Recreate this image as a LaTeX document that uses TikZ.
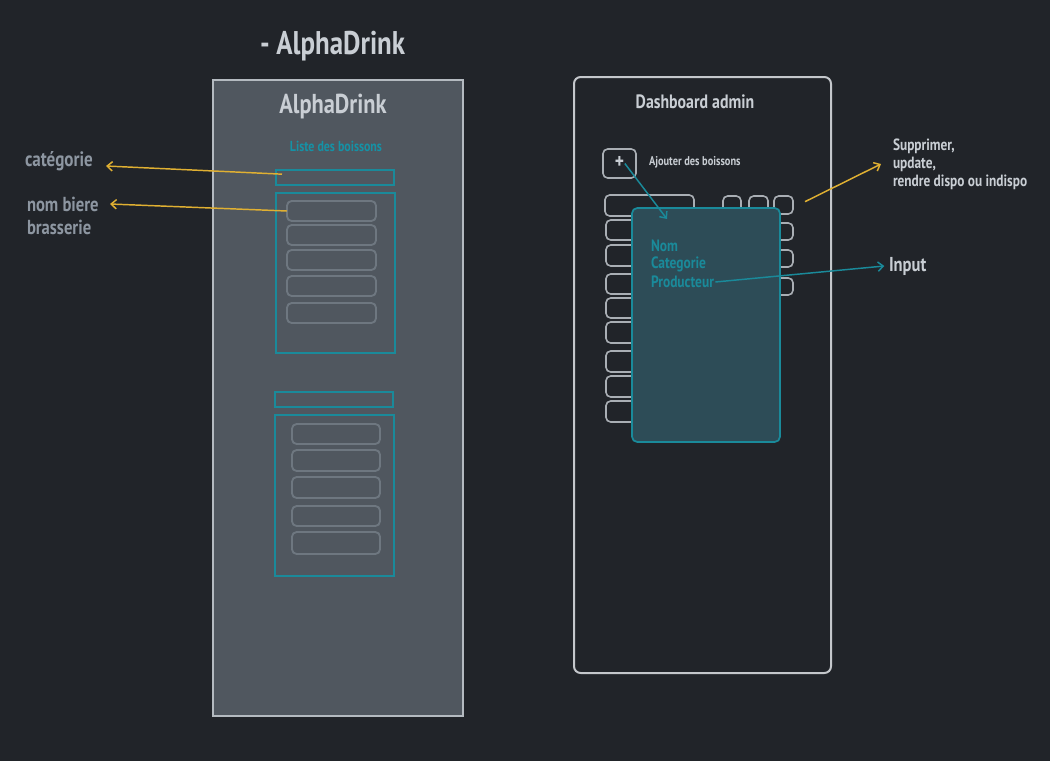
\documentclass[tikz,border=0pt]{standalone}
\usepackage{fontspec}
\setmainfont{PT Sans}[FakeStretch=0.82]
\usetikzlibrary{arrows.meta}
\definecolor{bgc}{HTML}{212429}
\definecolor{panelc}{HTML}{50575F}
\definecolor{panelborder}{HTML}{B4BAC0}
\definecolor{tealc}{HTML}{1A8A9A}
\definecolor{tealbright}{HTML}{1592A6}
\definecolor{rowgray}{HTML}{6E7780}
\definecolor{rowlight}{HTML}{A9AEB4}
\definecolor{amber}{HTML}{E0B032}
\definecolor{modalc}{HTML}{2D4C57}
\definecolor{lightc}{HTML}{C9CED4}
\definecolor{slate}{HTML}{8D96A1}
\definecolor{dashborder}{HTML}{C4C7CB}
\tikzset{
  every node/.style={inner sep=0pt, outer sep=0pt},
  tealbox/.style={draw=tealc, line width=1.3pt},
  rowL/.style={draw=rowgray, line width=1.4pt, rounded corners=3.5pt},
  rowD/.style={draw=rowlight, line width=1.2pt, rounded corners=3.5pt},
  arrowY/.style={draw=amber, line width=1.1pt, -{Straight Barb[length=4pt,width=7pt]}},
  arrowT/.style={draw=tealc, line width=1.1pt, -{Straight Barb[length=4pt,width=7pt]}},
  txt/.style={anchor=west, align=left}
}
\newcommand\pbx[6]{\node[#6, anchor=north west, minimum width={(#4-#2)*0.75pt}, minimum height={(#5-#3)*0.75pt}] (#1) at (#2,#3) {};}
\begin{document}
\begin{tikzpicture}[x=0.75pt,y=-0.75pt]
\fill[bgc] (0,0) rectangle (1050,761);
\useasboundingbox (0,0) rectangle (1050,761);

% ---------- left mock-up ----------
\node[txt, font=\bfseries\fontsize{24.6}{28}\selectfont, text=lightc] (title) at (260,46) {- AlphaDrink};
\pbx{panel}{213}{80}{463}{716}{fill=panelc, draw=panelborder, line width=1.5pt}
\node[font=\bfseries\fontsize{20.5}{24}\selectfont, text=lightc] (brand) at (333,107) {AlphaDrink};
\node[font=\bfseries\fontsize{10.9}{13}\selectfont, text=tealbright] (liste) at (336,146) {Liste des boissons};

\pbx{catA}{276}{170}{394}{185}{tealbox}
\pbx{listA}{276}{193}{395}{353}{tealbox}
\foreach \i/\a/\b in {1/201/221,2/225/245,3/250/270,4/276/296,5/303/323}{
  \pbx{rA\i}{287}{\a}{376}{\b}{rowL}
}
\pbx{catB}{275}{392}{393}{407}{tealbox}
\pbx{listB}{275}{415}{394}{576}{tealbox}
\foreach \i/\a/\b in {1/424/444,2/450/471,3/477/498,4/506/526,5/532/554}{
  \pbx{rB\i}{292}{\a}{380}{\b}{rowL}
}

\node[txt, font=\bfseries\fontsize{15.6}{17}\selectfont, text=slate] (cat) at (25,161) {catégorie};
\node[txt, font=\bfseries\fontsize{15.2}{17}\selectfont, text=slate] (nom) at (27,216) {nom biere\\brasserie};
\coordinate (catTip) at (106,166);
\coordinate (nomTip) at (110,204);
\draw[arrowY] ([xshift=4.5pt,yshift=2.5pt]catA.west) -- (catTip);
\draw[arrowY] (rA1.west) -- (nomTip);

% ---------- dashboard ----------
\pbx{dash}{574}{77}{831}{673}{draw=dashborder, line width=1.5pt, rounded corners=5pt}
\node[font=\bfseries\fontsize{14.5}{17}\selectfont, text=lightc] (dashtitle) at (695,102) {Dashboard admin};
\pbx{plus}{603}{149}{636}{178}{rowD}
\node[font=\bfseries\fontsize{16}{17}\selectfont, text=lightc] (plussign) at (619.5,162) {+};
\node[txt, font=\bfseries\fontsize{9.5}{11}\selectfont, text=lightc] (ajout) at (649,162) {Ajouter des boissons};

\pbx{dr0}{605}{195}{694}{216}{rowD}
\foreach \i/\a/\b in {1/220/240,2/245/266,3/274/294,4/298/318,5/322/343,6/351/372,7/376/397,8/401/422}{
  \pbx{dr\i}{606}{\a}{670}{\b}{rowD}
}
\pbx{sq1}{723}{196}{741}{214}{rowD}
\pbx{sq2}{749}{196}{768}{214}{rowD}
\pbx{sq3}{774}{196}{793}{214}{rowD}
\pbx{sq4}{760}{223}{793}{240}{rowD}
\pbx{sq5}{760}{250}{793}{267}{rowD}
\pbx{sq6}{760}{278}{793}{295}{rowD}

\pbx{modal}{632}{208}{780}{442}{fill=modalc, draw=tealc, line width=1.3pt, rounded corners=4pt}
\node[txt, font=\bfseries\fontsize{12.3}{13}\selectfont, text=tealc] (fnom) at (651,246) {Nom};
\node[txt, font=\bfseries\fontsize{12.3}{13}\selectfont, text=tealc] (fcat) at (651,264) {Categorie};
\node[txt, font=\bfseries\fontsize{12.3}{13}\selectfont, text=tealc] (fprod) at (651,282) {Producteur};

\node[txt, font=\bfseries\fontsize{12.2}{13.5}\selectfont, text=lightc] (actions) at (893,164) {Supprimer,\\update,\\rendre dispo ou indispo};
\node[txt, font=\bfseries\fontsize{15.1}{17}\selectfont, text=lightc] (input) at (889,266) {Input};

\coordinate (addTip) at (667,219);
\draw[arrowT] ([xshift=4pt]plus.center) -- (addTip);
\draw[arrowT] ([xshift=1pt]fprod.east) -- ([xshift=-3.5pt]input.west);
\draw[arrowY] ([xshift=9pt,yshift=2.5pt]sq3.east) -- ([xshift=-9pt]actions.west);
\end{tikzpicture}
\end{document}
